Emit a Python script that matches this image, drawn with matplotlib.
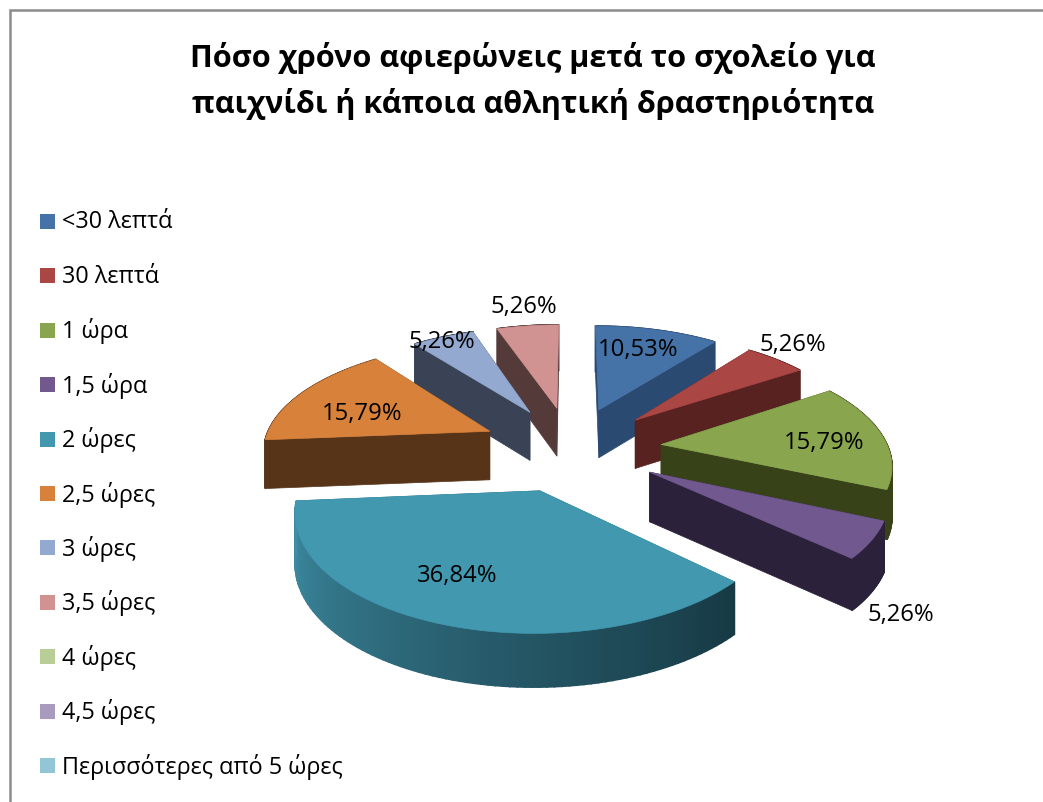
import numpy as np
import matplotlib
matplotlib.use('Agg')
import matplotlib.pyplot as plt
from matplotlib.patches import Polygon, Rectangle
from matplotlib.colors import to_rgb

categories = ['<30 λεπτά', '30 λεπτά', '1 ώρα', '1,5 ώρα', '2 ώρες', '2,5 ώρες',
              '3 ώρες', '3,5 ώρες', '4 ώρες', '4,5 ώρες', 'Περισσότερες από 5 ώρες']
counts = [2, 1, 3, 1, 7, 3, 1, 1, 0, 0, 0]

top_colors = ['#4572A7', '#AA4643', '#89A54E', '#71588F', '#4198AF', '#D7813B',
              '#93A9CF', '#D19392', '#B9CD96', '#A99BBD', '#92C5D6']
side_colors = ['#2B4A72', '#572220', '#384219', '#2C213A', '#2F7186', '#573417',
               '#3A4356', '#553A3A', '#B9CD96', '#A99BBD', '#92C5D6']

title_lines = 'Πόσο χρόνο αφιερώνεις μετά το σχολείο για\nπαιχνίδι ή κάποια αθλητική δραστηριότητα'
label_pos = {0: (638, 350), 1: (793, 345), 2: (824, 443), 3: (901, 615),
             4: (457, 576), 5: (362, 414), 6: (442, 342), 7: (524, 307)}

# projection settings, in pixels
CX, CY = 571, 448
R = 227
TILT = 0.47
PERSP = 0.15
DEPTH = 49
EXPLODE = 0.40

plt.rcParams['font.family'] = ['Open Sans', 'DejaVu Sans']


def project(x, y, z=0.0):
    s = 1 / (1 + PERSP * y)
    return CX + R * x * s, CY - R * TILT * y * s + z * s ** 0.4


def wedge_outline(a0, a1, ox, oy, z=0.0):
    t = np.linspace(a0, a1, 60)
    xs = np.concatenate([[ox], ox + np.sin(t)])
    ys = np.concatenate([[oy], oy + np.cos(t)])
    return np.column_stack(project(xs, ys, z))


def side_quad(p0, p1, ox, oy):
    # extruded strip between two points of the wedge
    xs = np.array([p0[0], p1[0], p1[0], p0[0]]) + ox
    ys = np.array([p0[1], p1[1], p1[1], p0[1]]) + oy
    zs = np.array([0, 0, DEPTH, DEPTH])
    return np.column_stack(project(xs, ys, zs))


def mix(c1, c2, f):
    a, b = np.array(to_rgb(c1)), np.array(to_rgb(c2))
    return tuple(a + (b - a) * f)


def draw_slice(ax, i, a0, a1):
    mid = (a0 + a1) / 2
    ox, oy = EXPLODE * np.sin(mid), EXPLODE * np.cos(mid)
    side = side_colors[i]
    # straight cuts first
    for a in (a0, a1):
        q = side_quad((0, 0), (np.sin(a), np.cos(a)), ox, oy)
        ax.add_patch(Polygon(q, closed=True, fc=side, ec=side, lw=0.5))
    # outer rim, the big slice gets a left to right shade
    t = np.linspace(a0, a1, 90)
    for j in range(len(t) - 1):
        q = side_quad((np.sin(t[j]), np.cos(t[j])), (np.sin(t[j + 1]), np.cos(t[j + 1])), ox, oy)
        if i == 4:
            f = (t[j] - a0) / (a1 - a0)
            col = mix('#173A45', '#3F8FA6', min(1, max(0, f)) ** 1.1)
        else:
            col = side
        ax.add_patch(Polygon(q, closed=True, fc=col, ec=col, lw=1.2))
    top = wedge_outline(a0, a1, ox, oy)
    ax.add_patch(Polygon(top, closed=True, fc=top_colors[i], ec=top_colors[i], lw=0.5))


fig = plt.figure(figsize=(10.43, 8.02), dpi=100)
ax = fig.add_axes([0, 0, 1, 1])
ax.set_xlim(0, 1043)
ax.set_ylim(802, 0)
ax.axis('off')

# chart frame, open at right and bottom as in the screenshot
ax.plot([9.5, 9.5, 1043], [802, 10, 10], color='#8C8C8C', lw=1.8, solid_joinstyle='miter')

ax.text(533, 81, title_lines, ha='center', va='center', fontsize=22.1, fontweight='bold',
        linespacing=1.55, color='black')

# legend
for i, name in enumerate(categories):
    y = 221.5 + i * 54.4
    ax.add_patch(Rectangle((40, y - 7.5), 15, 15, fc=top_colors[i], ec='none'))
    ax.text(62, y + 1, name, ha='left', va='center', fontsize=16.8, color='black')

# pie, painted back to front
vals = np.array(counts, dtype=float)
edges = np.concatenate([[0], np.cumsum(vals)]) / vals.sum() * 2 * np.pi
order = [i for i in range(len(vals)) if vals[i] > 0]
order.sort(key=lambda i: -np.cos((edges[i] + edges[i + 1]) / 2))
for i in order:
    draw_slice(ax, i, edges[i], edges[i + 1])

for i, (lx, ly) in label_pos.items():
    pct = f'{vals[i] / vals.sum() * 100:.2f}%'.replace('.', ',')
    ax.text(lx, ly, pct, ha='center', va='center', fontsize=17.2, color='black')

fig.savefig('out.png', dpi=100)
